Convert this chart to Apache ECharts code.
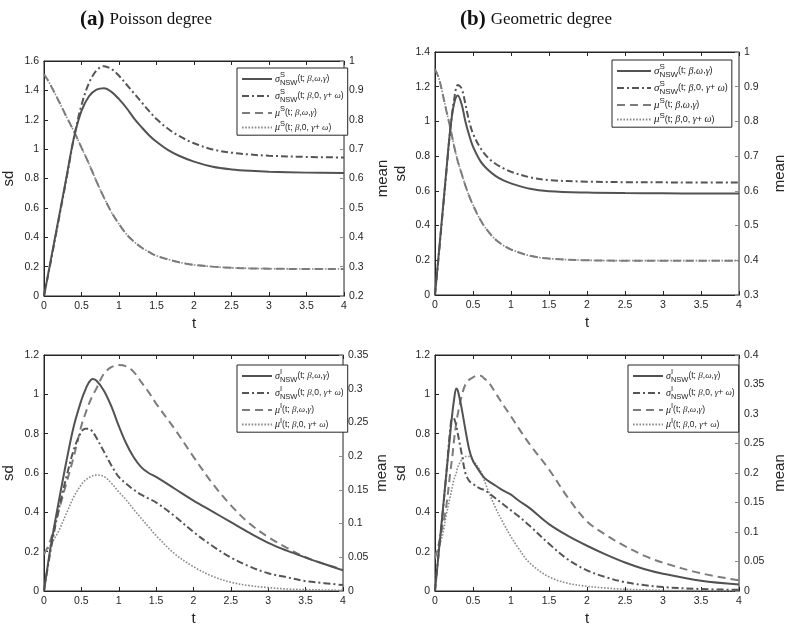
<!DOCTYPE html>
<html><head><meta charset="utf-8">
<script src="https://cdn.jsdelivr.net/npm/echarts@6/dist/echarts.min.js"></script>
<style>html,body{margin:0;padding:0;background:#fff}#c{width:788px;height:629px}</style>
</head><body><div id="c"></div>
<script>
// ---------- data ----------
const titles = ['(a)', 'Poisson degree', '(b)', 'Geometric degree'];
const namesS = ['σ^S_NSW(t; β,ω,γ)', 'σ^S_NSW(t; β,0, γ+ ω)', 'μ^S(t; β,ω,γ)', 'μ^S(t; β,0, γ+ ω)'];
const namesI = ['σ^I_NSW(t; β,ω,γ)', 'σ^I_NSW(t; β,0, γ+ ω)', 'μ^I(t; β,ω,γ)', 'μ^I(t; β,0, γ+ ω)'];

// (a) top: Poisson, S
const tTL = [0,0.05,0.1,0.2,0.3,0.4,0.5,0.6,0.7,0.8,0.9,1.0,1.1,1.2,1.3,1.4,1.5,1.65,1.8,2.0,2.25,2.5,2.75,3.0,3.5,4.0];
const sdTL1 = [0,0.135,0.27,0.54,0.81,1.08,1.26,1.36,1.405,1.415,1.39,1.34,1.28,1.21,1.15,1.095,1.05,0.995,0.955,0.915,0.88,0.862,0.852,0.846,0.84,0.837];
const sdTL2 = [0,0.13,0.26,0.53,0.8,1.08,1.3,1.45,1.535,1.565,1.545,1.5,1.44,1.38,1.32,1.26,1.205,1.14,1.09,1.04,0.998,0.976,0.963,0.955,0.947,0.943];
const mnTL1 = [0.955,0.935,0.912,0.862,0.81,0.76,0.705,0.65,0.59,0.535,0.485,0.445,0.41,0.385,0.365,0.35,0.337,0.325,0.315,0.306,0.3,0.296,0.294,0.293,0.292,0.292];
const mnTL2 = [0.955,0.935,0.912,0.862,0.81,0.76,0.705,0.65,0.59,0.535,0.485,0.445,0.41,0.385,0.365,0.35,0.337,0.325,0.315,0.306,0.3,0.296,0.294,0.293,0.292,0.292];

// (b) top: Geometric, S
const tTR = [0,0.05,0.1,0.15,0.2,0.25,0.3,0.35,0.4,0.45,0.5,0.6,0.7,0.8,0.9,1.0,1.25,1.5,2,2.5,3,3.5,4];
const sdTR1 = [0,0.24,0.48,0.72,0.95,1.1,1.15,1.1,1.0,0.92,0.855,0.77,0.72,0.685,0.66,0.643,0.612,0.598,0.59,0.587,0.586,0.585,0.585];
const sdTR2 = [0,0.23,0.47,0.71,0.95,1.12,1.21,1.19,1.1,1.0,0.93,0.845,0.79,0.755,0.73,0.71,0.678,0.662,0.653,0.65,0.649,0.648,0.648];
const mnTR1 = [0.95,0.925,0.88,0.83,0.783,0.73,0.685,0.65,0.615,0.585,0.559,0.515,0.483,0.459,0.443,0.431,0.413,0.405,0.4,0.399,0.399,0.399,0.399];
const mnTR2 = [0.95,0.925,0.88,0.83,0.783,0.73,0.685,0.65,0.615,0.585,0.559,0.515,0.483,0.459,0.443,0.431,0.413,0.405,0.4,0.399,0.399,0.399,0.399];

// (a) bottom: Poisson, I
const tBL = [0,0.05,0.1,0.2,0.3,0.4,0.5,0.55,0.6,0.65,0.7,0.8,0.9,1.0,1.1,1.2,1.3,1.4,1.5,1.75,2,2.25,2.5,2.75,3,3.25,3.5,3.75,4];
const sdBL1 = [0,0.13,0.25,0.46,0.66,0.84,0.97,1.02,1.06,1.078,1.07,1.02,0.94,0.84,0.75,0.68,0.63,0.6,0.58,0.52,0.46,0.405,0.35,0.295,0.245,0.205,0.17,0.137,0.105];
const sdBL2 = [0,0.12,0.23,0.42,0.58,0.72,0.81,0.825,0.825,0.81,0.78,0.71,0.64,0.58,0.545,0.515,0.49,0.47,0.45,0.38,0.30,0.23,0.17,0.125,0.09,0.07,0.05,0.04,0.03];
const mnBL1 = [0.055,0.065,0.08,0.12,0.16,0.2,0.245,0.262,0.277,0.29,0.3,0.322,0.332,0.335,0.333,0.325,0.31,0.295,0.278,0.24,0.199,0.16,0.127,0.1,0.08,0.064,0.05,0.04,0.032];
const mnBL2 = [0.055,0.062,0.07,0.09,0.115,0.14,0.158,0.164,0.168,0.171,0.172,0.17,0.16,0.147,0.135,0.121,0.108,0.095,0.082,0.055,0.036,0.022,0.013,0.008,0.005,0.003,0.002,0.0015,0.001];

// (b) bottom: Geometric, I
const tBR = [0,0.05,0.1,0.15,0.2,0.23,0.25,0.28,0.3,0.35,0.4,0.45,0.5,0.55,0.6,0.65,0.7,0.8,0.9,1.0,1.1,1.25,1.5,1.75,2,2.25,2.5,2.75,3,3.5,4];
const sdBR1 = [0,0.2,0.4,0.6,0.8,0.91,0.97,1.03,1.02,0.93,0.82,0.72,0.66,0.63,0.6,0.575,0.56,0.535,0.51,0.49,0.46,0.42,0.34,0.28,0.23,0.185,0.145,0.112,0.088,0.052,0.033];
const sdBR2 = [0,0.2,0.39,0.6,0.82,0.893,0.88,0.84,0.8,0.7,0.6,0.56,0.545,0.53,0.52,0.514,0.5,0.47,0.44,0.41,0.38,0.33,0.24,0.16,0.105,0.07,0.045,0.03,0.02,0.01,0.006];
const mnBR1 = [0.055,0.08,0.11,0.145,0.2,0.23,0.255,0.285,0.3,0.33,0.35,0.358,0.362,0.365,0.365,0.36,0.355,0.335,0.315,0.296,0.276,0.248,0.206,0.158,0.118,0.095,0.076,0.06,0.048,0.03,0.018];
const mnBR2 = [0.058,0.075,0.095,0.13,0.16,0.178,0.189,0.2,0.21,0.222,0.228,0.228,0.222,0.213,0.203,0.187,0.17,0.14,0.115,0.092,0.072,0.047,0.024,0.013,0.008,0.005,0.003,0.002,0.001,0.0005,0];

// axis ranges
const sdMax = [1.6, 1.4, 1.2, 1.2];
const mnMin = [0.2, 0.3, 0, 0];
const mnMax = [1, 1, 0.35, 0.4];
const mnInt = [0.1, 0.1, 0.05, 0.05];

// ---------- layout ----------
const grids = [
  {left: 43, top: 61, width: 301, height: 235},
  {left: 435, top: 52, width: 304, height: 243},
  {left: 43, top: 355, width: 300, height: 236},
  {left: 435, top: 355, width: 304, height: 236}
];
const legendPos = [
  {left: 237, top: 68}, {left: 612, top: 60}, {left: 237, top: 365}, {left: 628, top: 365}
];

const zip = (t, v) => t.map((x, i) => [x, v[i]]);
const panels = [
  {t: tTL, s1: sdTL1, s2: sdTL2, m1: mnTL1, m2: mnTL2, names: namesS},
  {t: tTR, s1: sdTR1, s2: sdTR2, m1: mnTR1, m2: mnTR2, names: namesS},
  {t: tBL, s1: sdBL1, s2: sdBL2, m1: mnBL1, m2: mnBL2, names: namesI},
  {t: tBR, s1: sdBR1, s2: sdBR2, m1: mnBR1, m2: mnBR2, names: namesI}
];

const AX = '#262626';
const fontSans = 'Liberation Sans, Arial, sans-serif';
const xAxes = [], yAxes = [], series = [], legends = [];

const styles = [
  {color: '#525252', width: 2, type: 'solid'},
  {color: '#555555', width: 2, type: [7, 3, 2, 3]},
  {color: '#7c7c7c', width: 2, type: [8, 5]},
  {color: '#8a8a8a', width: 1.6, type: [1.6, 1.6]}
];

function richName(name) {
  const g = name[0];
  const sup = name[2];
  let rest = name.slice(3);
  let sub = '';
  if (rest.startsWith('_NSW')) { sub = 'NSW'; rest = rest.slice(4); }
  let out = '{g|' + g + '}' + (sub ? '{sup0|' + sup + '}{sub|' + sub + '}' : '{sup|' + sup + '}');
  for (const ch of rest) {
    if ('βωγ'.includes(ch)) out += '{g2|' + ch + '}';
    else out += '{r|' + ch + '}';
  }
  return out;
}

panels.forEach((p, k) => {
  const rightCol = (k % 2 === 1);
  xAxes.push({
    gridIndex: k, type: 'value', min: 0, max: 4, interval: 0.5, position: 'bottom',
    name: 't', nameLocation: 'middle', nameGap: 20,
    nameTextStyle: {fontSize: 15, color: AX, fontFamily: fontSans},
    axisLine: {show: true, onZero: false, lineStyle: {color: AX, width: 1}},
    axisTick: {show: true, inside: true, length: 4, lineStyle: {color: AX}},
    axisLabel: {fontSize: 10.5, color: AX, fontFamily: fontSans, margin: 5},
    splitLine: {show: false}
  });
  xAxes.push({
    gridIndex: k, type: 'value', min: 0, max: 4, interval: 0.5, position: 'top',
    axisLine: {show: true, onZero: false, lineStyle: {color: AX, width: 1}},
    axisTick: {show: true, inside: true, length: 4, lineStyle: {color: AX}},
    axisLabel: {show: false}, splitLine: {show: false}
  });
  yAxes.push({
    gridIndex: k, type: 'value', min: 0, max: sdMax[k], interval: 0.2, position: 'left',
    name: 'sd', nameLocation: 'middle', nameGap: rightCol ? 27 : 28, nameRotate: 90,
    nameTextStyle: {fontSize: 15, color: AX, fontFamily: fontSans},
    axisLine: {show: true, onZero: false, lineStyle: {color: AX, width: 1}},
    axisTick: {show: true, inside: true, length: 4, lineStyle: {color: AX}},
    axisLabel: {fontSize: 10.5, color: AX, fontFamily: fontSans, margin: 5},
    splitLine: {show: false}
  });
  yAxes.push({
    gridIndex: k, type: 'value', min: mnMin[k], max: mnMax[k], interval: mnInt[k], position: 'right',
    name: 'mean', nameLocation: 'middle', nameGap: rightCol ? 33 : 31, nameRotate: 90,
    nameTextStyle: {fontSize: 15, color: AX, fontFamily: fontSans},
    axisLine: {show: true, onZero: false, lineStyle: {color: '#8c8c8c', width: 1}},
    axisTick: {show: true, inside: true, length: 4, lineStyle: {color: '#8c8c8c'}},
    axisLabel: {fontSize: 10.5, color: AX, fontFamily: fontSans, margin: 5},
    splitLine: {show: false}
  });
  const data = [p.s1, p.s2, p.m1, p.m2];
  data.forEach((vals, j) => {
    series.push({
      type: 'line', name: p.names[j], xAxisIndex: 2 * k, yAxisIndex: 2 * k + (j < 2 ? 0 : 1),
      data: zip(p.t, vals), showSymbol: false, symbol: 'none', smooth: 0.35,
      lineStyle: {color: styles[j].color, width: styles[j].width, type: styles[j].type},
      itemStyle: {color: styles[j].color},
      z: 5 - j, animation: false
    });
  });
  const big = (k === 1);
  legends.push({
    data: p.names, orient: 'vertical', left: legendPos[k].left, top: legendPos[k].top,
    backgroundColor: '#fff', borderColor: AX, borderWidth: 1, borderRadius: 0,
    padding: [3, 4, 2, 4], itemGap: 1, itemWidth: big ? 34 : 30, itemHeight: 14,
    selectedMode: false,
    itemStyle: {opacity: 0, borderWidth: 0},
    formatter: richName,
    textStyle: {
      color: '#222', fontSize: big ? 9.5 : 9, fontFamily: fontSans, padding: [0, 0, 0, -2],
      rich: {
        g: {fontFamily: 'Liberation Serif', fontStyle: 'italic', fontSize: big ? 11 : 10, color: '#222', lineHeight: 16},
        g2: {fontFamily: 'Liberation Serif', fontStyle: 'italic', fontSize: big ? 10 : 9, color: '#222', lineHeight: 16},
        sup0: {fontSize: big ? 8 : 7.5, color: '#222', verticalAlign: 'top', lineHeight: 16, width: 0},
        sup: {fontSize: big ? 8 : 7.5, color: '#222', verticalAlign: 'top', lineHeight: 16},
        sub: {fontSize: big ? 8 : 7.5, color: '#222', verticalAlign: 'bottom', lineHeight: 16},
        r: {fontSize: big ? 9 : 8.5, color: '#222', lineHeight: 16}
      }
    }
  });
});

const titleRich = {
  b: {fontFamily: 'Liberation Serif', fontWeight: 'bold', fontSize: 21, color: '#111'},
  n: {fontFamily: 'Liberation Serif', fontWeight: 'normal', fontSize: 17, color: '#111'}
};

const option = {
  animation: false,
  backgroundColor: '#fff',
  title: [
    {text: '{b|' + titles[0] + '} {n|' + titles[1] + '}', left: 75, top: 4, textStyle: {fontWeight: 'normal', rich: titleRich}},
    {text: '{b|' + titles[2] + '} {n|' + titles[3] + '}', left: 455, top: 4, textStyle: {fontWeight: 'normal', rich: titleRich}}
  ],
  grid: grids.map(g => Object.assign({show: true, borderColor: AX, borderWidth: 1, backgroundColor: 'transparent', containLabel: false}, g)),
  legend: legends,
  xAxis: xAxes,
  yAxis: yAxes,
  series: series
};
const chart = echarts.init(document.getElementById('c'), null, {renderer: 'canvas'});
chart.setOption(option);
</script></body></html>
